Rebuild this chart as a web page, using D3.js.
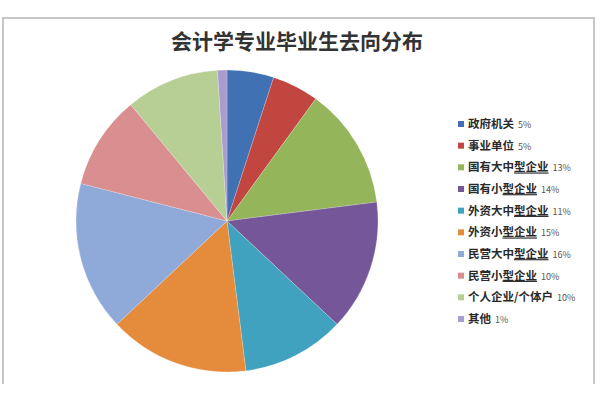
<!doctype html>
<html>
  <head>
    <meta charset="utf-8">
    <title>会计学专业毕业生去向分布</title>
    <script src="https://d3js.org/d3.v7.min.js"></script>
    <style type="text/css">
      body { margin: 0; background-color: #ffffff; }
      svg { display: block; }
    </style>
  </head>
  <body>
    <script>
      // data
      var categories = ["政府机关", "事业单位", "国有大中型企业", "国有小型企业", "外资大中型企业",
                        "外资小型企业", "民营大中型企业", "民营小型企业", "个人企业/个体户", "其他"];
      var values = [5, 5, 13, 14, 11, 15, 16, 10, 10, 1];
      var colors = ["#4071b2", "#c0463f", "#94b55a", "#755799", "#41a2bf",
                    "#e58b3c", "#8fa9d9", "#d98f8f", "#b7cf95", "#a99cd0"];
      // the part of each legend label that is underlined in the picture
      var underlined = ["", "", "型企业", "型企业", "型企业", "型企业", "型企业", "型企业", "", ""];

      var w = 600, h = 400;
      var cx = 227, cy = 221, r = 151;

      var svg = d3.select("body").append("svg")
        .attr("width", w)
        .attr("height", h);

      // frame (left, top, right edges)
      svg.append("path")
        .attr("d", "M3,384 V18 H594 V384")
        .style("fill", "none")
        .style("stroke", "#c6c6c6")
        .style("stroke-width", 2);

      svg.append("text")
        .attr("x", 297)
        .attr("y", 49)
        .attr("text-anchor", "middle")
        .style("font-family", "'Noto Sans CJK SC', sans-serif")
        .style("font-size", "21px")
        .style("font-weight", "bold")
        .style("fill", "#333333")
        .text("会计学专业毕业生去向分布");

      var pie = d3.pie().sort(null).value(function(d) { return d; });
      var arc = d3.arc().innerRadius(0).outerRadius(r);

      var color = d3.scaleOrdinal().domain(categories).range(colors);

      svg.append("g")
        .attr("transform", "translate(" + cx + "," + cy + ")")
        .selectAll("path")
        .data(pie(values))
        .enter()
        .append("path")
        .attr("d", arc)
        .style("fill", function(d, i) { return color(categories[i]); })
        .style("stroke", "rgba(255,255,255,0.35)")
        .style("stroke-width", 0.6);

      // legend
      var y = d3.scalePoint().domain(categories).range([124, 319]);

      var item = svg.append("g").selectAll("g")
        .data(categories)
        .enter()
        .append("g")
        .attr("transform", function(d) { return "translate(458," + y(d) + ")"; });

      item.append("rect")
        .attr("x", 0).attr("y", -3)
        .attr("width", 6).attr("height", 6)
        .style("fill", function(d) { return color(d); });

      var label = item.append("text")
        .attr("x", 10)
        .attr("dy", "0.36em")
        .style("font-family", "'Noto Sans CJK SC', sans-serif")
        .style("font-size", "11.5px")
        .style("font-weight", "bold")
        .style("fill", "#2a2a2a");

      label.each(function(d, i) {
        var t = d3.select(this);
        var u = underlined[i];
        var head = u ? d.slice(0, d.length - u.length) : d;
        t.append("tspan").text(head);
        if (u) t.append("tspan").style("text-decoration", "underline").text(u);
        t.append("tspan")
          .attr("dx", 4)
          .style("font-size", "9px")
          .style("font-weight", "normal")
          .style("fill", "#555555")
          .text(values[i] + "%");
      });
    </script>
  </body>
</html>
